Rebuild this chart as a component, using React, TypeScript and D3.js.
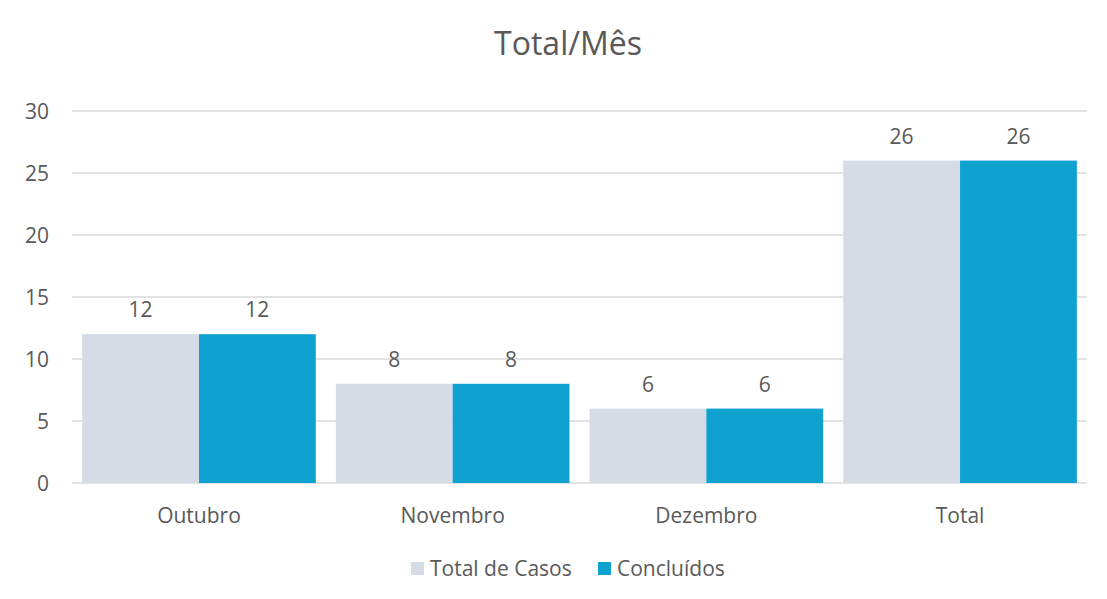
import * as d3 from "d3";

const categories = ["Outubro", "Novembro", "Dezembro", "Total"];
const seriesNames = ["Total de Casos", "Concluídos"];
const totalCasos = [12, 8, 6, 26];
const concluidos = [12, 8, 6, 26];
const yTicks = [0, 5, 10, 15, 20, 25, 30];
const colors = ["#D6DCE5", "#0FA1CF"];

const W = 1107;
const H = 599;
const margin = { top: 111, right: 20, bottom: 116, left: 72 };
const font = "'Open Sans', 'Noto Sans', sans-serif";
const textColor = "#595959";
const fs = 21;

export default function App() {
  const values = [totalCasos, concluidos];

  const x = d3
    .scaleBand()
    .domain(categories)
    .range([margin.left, W - margin.right])
    .paddingInner(0.079)
    .paddingOuter(0.04);

  const xs = d3
    .scaleBand()
    .domain(seriesNames)
    .range([0, x.bandwidth()]);

  const y = d3
    .scaleLinear()
    .domain([0, 30])
    .range([H - margin.bottom, margin.top]);

  return (
    <svg
      width={W}
      height={H}
      style={{ position: "absolute", left: 0, top: 0, background: "#fff" }}
    >
      {/* Title */}
      <text
        x={568}
        y={42}
        textAnchor="middle"
        dominantBaseline="central"
        fontSize="32"
        fontFamily={font}
        fill={textColor}
      >
        Total/Mês
      </text>

      {/* Gridlines + y labels */}
      {yTicks.map((t) => (
        <g key={t}>
          <line
            x1={margin.left}
            x2={W - margin.right}
            y1={y(t)}
            y2={y(t)}
            stroke="#D9D9D9"
            strokeWidth={1.5}
          />
          <text
            x={49}
            y={y(t)}
            textAnchor="end"
            dominantBaseline="central"
            fontSize={fs}
            fontFamily={font}
            fill={textColor}
          >
            {t}
          </text>
        </g>
      ))}

      {/* Bars */}
      {categories.map((c, i) => (
        <g key={c} transform={`translate(${x(c)},0)`}>
          {seriesNames.map((s, j) => (
            <g key={s}>
              <rect
                x={xs(s)}
                y={y(values[j][i])}
                width={xs.bandwidth()}
                height={y(0) - y(values[j][i])}
                fill={colors[j]}
              />
              <text
                x={(xs(s) as number) + xs.bandwidth() / 2}
                y={y(values[j][i]) - 25}
                textAnchor="middle"
                dominantBaseline="central"
                fontSize={fs}
                fontFamily={font}
                fill={textColor}
              >
                {values[j][i]}
              </text>
            </g>
          ))}
          <text
            x={x.bandwidth() / 2}
            y={y(0) + 32}
            textAnchor="middle"
            dominantBaseline="central"
            fontSize={fs}
            fontFamily={font}
            fill={textColor}
          >
            {c}
          </text>
        </g>
      ))}

      {/* Legend */}
      {seriesNames.map((s, j) => {
        const lx = j === 0 ? 411 : 598;
        return (
          <g key={s}>
            <rect x={lx} y={562} width={13} height={13} fill={colors[j]} />
            <text
              x={lx + 19}
              y={568}
              dominantBaseline="central"
              fontSize={fs}
              fontFamily={font}
              fill={textColor}
            >
              {s}
            </text>
          </g>
        );
      })}
    </svg>
  );
}
